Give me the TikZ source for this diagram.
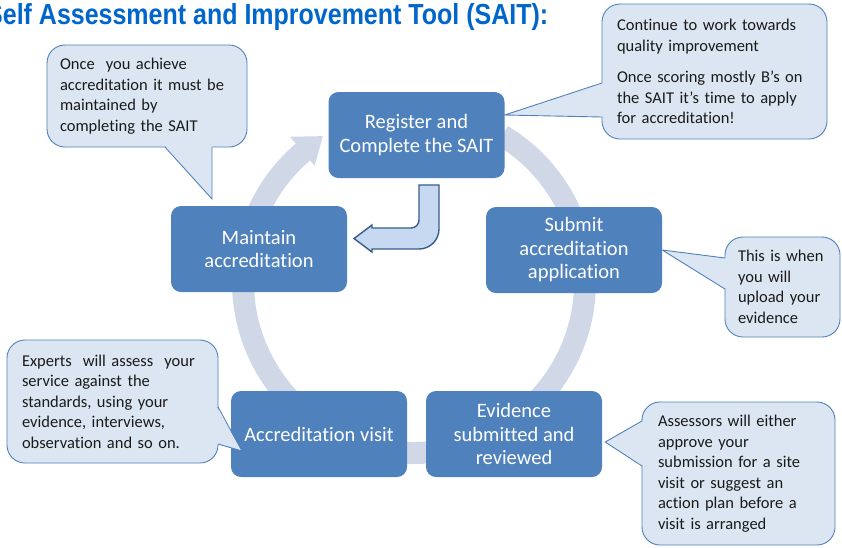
\documentclass[tikz,border=0pt]{standalone}
\usepackage{fontspec}
\usepackage{graphicx}
\setmainfont{Carlito}[Ligatures=NoCommon]
\newfontfamily\titlefont{Liberation Sans}
\usetikzlibrary{calc}
\definecolor{boxblue}{HTML}{4F81BD}
\definecolor{ringc}{HTML}{D0D8E8}
\definecolor{callfill}{HTML}{DCE6F2}
\definecolor{callline}{HTML}{4F81BD}
\definecolor{bentfill}{HTML}{C6D9F1}
\definecolor{bentline}{HTML}{385D8A}
\definecolor{titleblue}{HTML}{0066CC}
\definecolor{calltext}{HTML}{1A1A1A}
\begin{document}
\begin{tikzpicture}[x=1pt,y=1pt,
  stage/.style={rectangle, rounded corners=10pt, fill=boxblue, text=white,
    minimum width=176pt, minimum height=86pt, inner sep=0pt, align=center,
    font=\fontsize{20.5}{23.5}\selectfont},
  callout/.style={rectangle, rounded corners=18pt, fill=callfill, draw=callline,
    line width=0.9pt, align=left, inner ysep=0pt, text=calltext,
    font=\fontsize{16.5}{20.5}\selectfont},
  tailfill/.style={fill=callfill},
  tailline/.style={draw=callline, line width=0.9pt, line join=miter},
  ringarc/.style={draw=ringc, line width=22pt},
  bent/.style={draw=bentline, fill=bentfill, line width=1.4pt, line join=miter}
]
\fill[white] (0,0) rectangle (842,-547);
\useasboundingbox (0,0) rectangle (842,-547);

% title
\node[anchor=base west, text=titleblue, inner sep=0pt] (title) at (-14,-24.5)
  {\resizebox{562pt}{\height}{\titlefont\bfseries\fontsize{29}{29}\selectfont Self Assessment and Improvement Tool (SAIT):}};

% cycle ring
\coordinate (ctr) at (414,-282);
\draw[ringarc] ($(ctr)+(59:171)$) arc[start angle=59, end angle=-230, radius=171];
\fill[ringc] ($(ctr)+(130.5:153)$) -- ($(ctr)+(122:172)$) -- ($(ctr)+(130.5:191)$) -- cycle;

% stages
\node[stage] (reg) at (416.5,-135) {Register and\\Complete the SAIT};
\node[stage] (sub) at (574,-250) {Submit\\accreditation\\application};
\node[stage] (evi) at (514,-434) {Evidence\\submitted and\\reviewed};
\node[stage] (vis) at (319,-434) {Accreditation visit};
\node[stage] (mai) at (259,-249) {Maintain\\accreditation};

% bent arrow from Register to Maintain
\draw[bent] (419,-185) -- (439,-185) -- (439,-229) arc[start angle=0, end angle=-90, radius=20]
  -- (372,-249) -- (372,-252) -- (354,-238.5) -- (372,-225) -- (372,-228) -- (411,-228)
  arc[start angle=-90, end angle=0, radius=8] -- cycle;

% callout 1 (top left)
\node[callout, text width=174pt, inner xsep=13pt, minimum height=102pt] (c1) at (147,-96)
  {Once\ \ you achieve\\accreditation it must be\\maintained by\\completing the SAIT};
\coordinate (c1a) at (165,-147); \coordinate (c1b) at (212,-147); \coordinate (c1t) at (212,-199);
\fill[tailfill] ($(c1a)+(0,1.5)$) -- (c1t) -- ($(c1b)+(0,1.5)$) -- cycle;
\draw[tailline] (c1a) -- (c1t) -- (c1b);

% callout 2 (top right)
\node[callout, text width=195pt, inner xsep=15pt, minimum height=135pt] (c2) at (714.5,-71.5)
  {Continue to work towards\\quality improvement\\[11pt]Once scoring mostly B’s on\\the SAIT it’s time to apply\\for accreditation!};
\coordinate (c2a) at (602,-83); \coordinate (c2b) at (602,-117); \coordinate (c2t) at ($(reg.east)+(0,20)$);
\fill[tailfill] ($(c2a)+(1.5,0)$) -- (c2t) -- ($(c2b)+(1.5,0)$) -- cycle;
\draw[tailline] (c2a) -- (c2t) -- (c2b);

% callout 3 (right middle)
\node[callout, text width=89pt, inner xsep=13pt, minimum height=100pt] (c3) at (782.5,-287)
  {This is when\\you will\\upload your\\evidence};
\coordinate (c3a) at (725,-258); \coordinate (c3b) at (725,-289); \coordinate (c3t) at (sub.east);
\fill[tailfill] ($(c3a)+(1.5,0)$) -- (c3t) -- ($(c3b)+(1.5,0)$) -- cycle;
\draw[tailline] (c3a) -- (c3t) -- (c3b);

% callout 4 (bottom left)
\node[callout, text width=181pt, inner xsep=15pt, minimum height=123pt] (c4) at (112.5,-401.5)
  {Experts\ \ will assess\ \ your\\service against the\\standards, using your\\evidence, interviews,\\observation and so on.};
\coordinate (c4a) at (218,-407); \coordinate (c4b) at (218,-444); \coordinate (c4t) at (242,-451);
\fill[tailfill] ($(c4a)+(-1.5,0)$) -- (c4t) -- ($(c4b)+(-1.5,0)$) -- cycle;
\draw[tailline] (c4a) -- (c4t) -- (c4b);

% callout 5 (bottom right)
\node[callout, text width=161pt, inner xsep=16pt, minimum height=143pt] (c5) at (738.5,-473.5)
  {Assessors will either\\approve your\\submission for a site\\visit or suggest an\\action plan before a\\visit is arranged};
\coordinate (c5a) at (642,-421); \coordinate (c5b) at (642,-466); \coordinate (c5t) at ($(evi.east)+(3,-8)$);
\fill[tailfill] ($(c5a)+(1.5,0)$) -- (c5t) -- ($(c5b)+(1.5,0)$) -- cycle;
\draw[tailline] (c5a) -- (c5t) -- (c5b);
\end{tikzpicture}
\end{document}
